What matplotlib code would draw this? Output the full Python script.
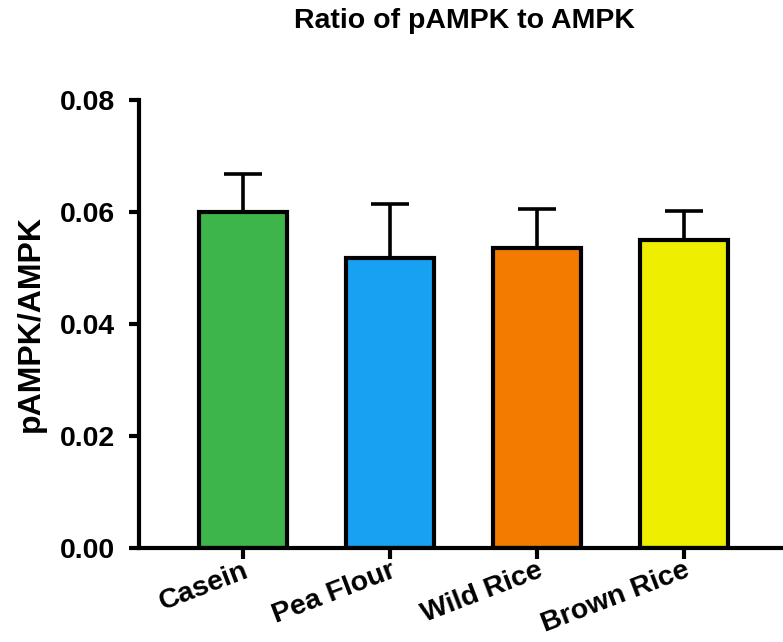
import matplotlib
matplotlib.use("Agg")
import matplotlib.pyplot as plt
import numpy as np

plt.rcParams['font.family'] = ['Liberation Sans', 'DejaVu Sans']
plt.rcParams['font.weight'] = 'bold'

# group means and SEM
groups = ['Casein', 'Pea Flour', 'Wild Rice', 'Brown Rice']
means = [0.0600, 0.0518, 0.0536, 0.0550]
sem = [0.0068, 0.0096, 0.0069, 0.0052]
colors = ['#3DB54A', '#18A1F2', '#F27B00', '#EEEE00']

fig = plt.figure(figsize=(7.83, 6.42), dpi=100)
ax = fig.add_axes([139 / 783, 94 / 642, 642 / 783, 448 / 642])

x = np.arange(len(groups))
ax.bar(x, means, width=0.6, color=colors, edgecolor='black', linewidth=3, zorder=2)
ax.errorbar(x, means, yerr=[np.zeros(len(sem)), sem], fmt='none', ecolor='black',
            elinewidth=2.6, capsize=14, capthick=2.6, zorder=1)

ax.set_xlim(-0.71, 3.66)
ax.set_ylim(0, 0.08)
ax.set_yticks([0, 0.02, 0.04, 0.06, 0.08])
ax.set_yticklabels(['0.00', '0.02', '0.04', '0.06', '0.08'], fontsize=20.5, fontweight='bold')
ax.set_xticks(x)
ax.set_xticklabels(groups, fontsize=20.5, fontweight='bold', rotation=21,
                   ha='right', rotation_mode='anchor')

for s in ['top', 'right']:
    ax.spines[s].set_visible(False)
for s in ['left', 'bottom']:
    ax.spines[s].set_linewidth(3)
ax.tick_params(axis='y', length=7, width=3, pad=10)
ax.tick_params(axis='x', length=8, width=3, pad=-1)

ax.set_ylabel('pAMPK/AMPK', fontsize=23, fontweight='bold', labelpad=10)
fig.text(0.593, 0.967, 'Ratio of pAMPK to AMPK', fontsize=20.5, fontweight='bold',
         ha='center', va='center')

fig.savefig('out.png', dpi=100)
